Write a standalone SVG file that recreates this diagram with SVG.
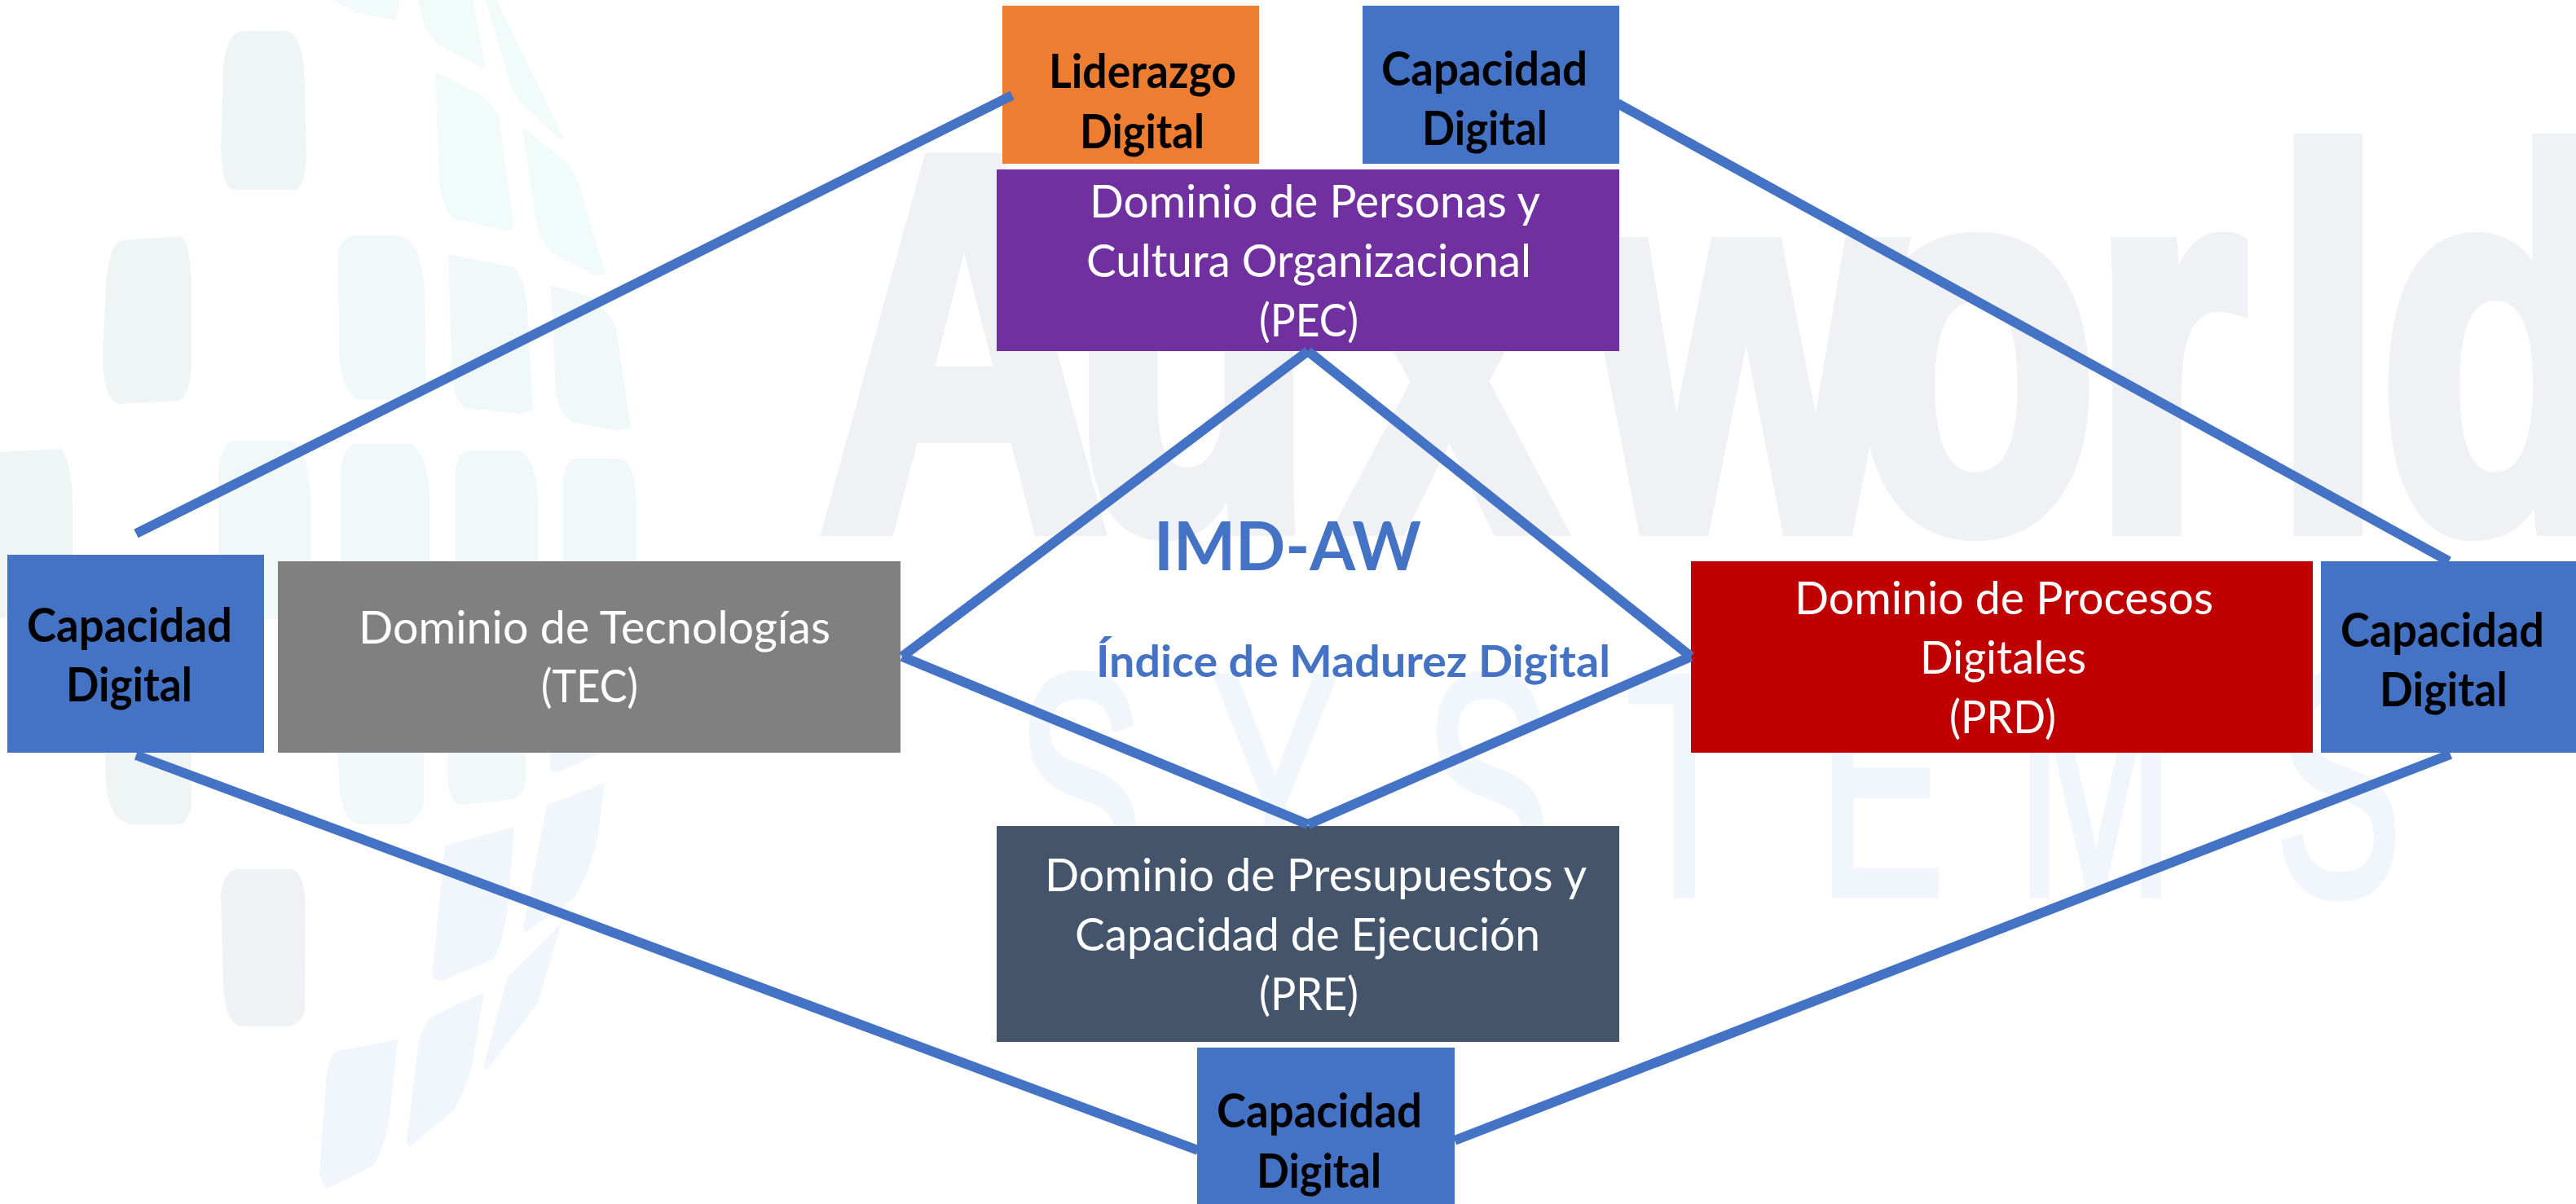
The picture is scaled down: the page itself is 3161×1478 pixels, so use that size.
<svg xmlns="http://www.w3.org/2000/svg" width="3161" height="1478" viewBox="0 0 3161 1478">
<style>
text{font-family:"Lato","Liberation Sans",sans-serif}
.r{font-size:57px;fill:#fff}
.b{font-size:58px;font-weight:700;fill:#000}
.t{font-weight:700;fill:#4472C4}
.wm1{font-family:"Liberation Sans",sans-serif;font-weight:700;font-size:649px;fill:#eff1f5;stroke:#eff1f5;stroke-width:24px}
.wm2{font-family:"Liberation Sans",sans-serif;font-size:390px;fill:#f1f5fc;stroke:#f1f5fc;stroke-width:8px}
.lg{fill:#eff5f5}
.lt{fill:#f1fbfa}
.lm{fill:#f0f8fa}
.lb{fill:#f1f6fd}
.lc{fill:#eff1f5}
.c{stroke:#4472C4;stroke-width:12;fill:none}
</style>
<rect width="3161" height="1478" fill="#fff"/>
<g id="watermark">
<text class="wm1" transform="scale(.75,1)" y="646" x="1343 1753 2192 2605 3035 3423 3719 3893">Auxworld</text>
<text class="wm2" transform="scale(.6,1)" y="1099" x="2078 2478 2912 3325 3718 4123 4653">SYSTEMS</text>
<path class="lg" d="M295 38H350Q372 40 374 100L376 190Q375 228 362 233H285Q272 228 271 180L274 80Q278 42 295 38Z"/>
<path class="lg" d="M150 295L222 290Q233 295 235 350V450Q232 490 218 492L145 496Q127 490 126 440L130 350Q133 300 150 295Z"/>
<path class="lt" d="M408 0H491L485 25L440 16Z"/>
<path class="lt" d="M513 0H580L596 83H590L536 54Q524 40 520 27Z"/>
<path class="lt" d="M596 0H609L692 170H686L638 125Q625 105 622 89Z"/>
<path class="lt" d="M534 88L593 118Q610 135 612 143L631 281L622 283L555 268Q542 250 539 223Z"/>
<path class="lt" d="M641 156L698 201Q712 225 717 250L743 337L733 339L676 310Q660 290 657 268Z"/>
<path class="lm" d="M435 289H490Q518 295 521 360L523 491H440Q418 480 416 430L415 310Q418 292 435 289Z"/>
<path class="lm" d="M550 312L631 328Q645 345 647 379L654 504L638 508L571 501Q557 490 555 464Z"/>
<path class="lm" d="M676 350L724 364Q750 385 756 402L774 525L759 529L702 518Q685 505 682 482Z"/>
<path class="lg" d="M0 555L75 551Q89 570 89 620V758H0Z"/>
<path class="lm" d="M285 541H360Q381 560 381 620V760H268V580Q270 548 285 541Z"/>
<path class="lm" d="M435 545H505Q527 560 527 620V760H418V580Q420 550 435 545Z"/>
<path class="lm" d="M575 553H640Q660 570 660 620V760H559V580Q560 558 575 553Z"/>
<path class="lm" d="M705 563H765Q781 575 781 620V760H691V590Q693 568 705 563Z"/>
<path class="lg" d="M128 900H235V990Q230 1010 220 1012H160Q132 1005 130 960Z"/>
<path class="lm" d="M414 900H520V985Q515 1005 500 1012H440Q418 1005 416 960Z"/>
<path class="lm" d="M550 900H645V960Q640 980 625 982L565 988Q552 985 550 960Z"/>
<path class="lb" d="M675 900H760L745 920L685 948L675 946Z"/>
<path class="lc" d="M290 1067H360Q375 1075 375 1120L374 1240Q370 1258 352 1260H295Q276 1255 274 1210L271 1100Q274 1070 290 1067Z"/>
<path class="lb" d="M546 1038L631 1015L623 1115Q618 1155 605 1178L539 1205L530 1199Z"/>
<path class="lb" d="M671 988L742 961L733 1030Q722 1075 704 1104L645 1144L642 1138Z"/>
<path class="lb" d="M623 1199L689 1133L660 1231L598 1313L593 1310Z"/>
<path class="lb" d="M532 1247L594 1218L579 1310Q570 1340 557 1363L502 1408L499 1400L513 1284Q518 1258 532 1247Z"/>
<path class="lb" d="M411 1291L488 1276L477 1379Q470 1412 458 1431L400 1460L392 1442L400 1326Q403 1300 411 1291Z"/>
</g>
<g id="node-liderazgo">
<rect x="1230" y="7" width="315" height="194" fill="#ED7D31"/>
<text class="b" x="1287" y="108" textLength="230" lengthAdjust="spacingAndGlyphs">Liderazgo</text>
<text class="b" x="1325" y="182" textLength="153" lengthAdjust="spacingAndGlyphs">Digital</text>
</g>
<g id="node-capacidad-top">
<rect x="1672" y="7" width="315" height="194" fill="#4472C4"/>
<text class="b" x="1695" y="105" textLength="253" lengthAdjust="spacingAndGlyphs">Capacidad</text>
<text class="b" x="1745" y="178" textLength="154" lengthAdjust="spacingAndGlyphs">Digital</text>
</g>
<g id="node-pec">
<rect x="1223" y="208" width="764" height="223" fill="#7030A0"/>
<text class="r" x="1337" y="267" textLength="553" lengthAdjust="spacingAndGlyphs">Dominio de Personas y</text>
<text class="r" x="1333" y="340" textLength="546" lengthAdjust="spacingAndGlyphs">Cultura Organizacional</text>
<text class="r" x="1545" y="413" textLength="122" lengthAdjust="spacingAndGlyphs">(PEC)</text>
</g>
<g id="node-capacidad-left">
<rect x="9" y="681" width="315" height="243" fill="#4472C4"/>
<text class="b" x="33" y="788" textLength="252" lengthAdjust="spacingAndGlyphs">Capacidad</text>
<text class="b" x="81" y="861" textLength="155" lengthAdjust="spacingAndGlyphs">Digital</text>
</g>
<g id="node-tec">
<rect x="341" y="689" width="764" height="235" fill="#808080"/>
<text class="r" x="440" y="790" textLength="579" lengthAdjust="spacingAndGlyphs">Dominio de Tecnologías</text>
<text class="r" x="664" y="862" textLength="119" lengthAdjust="spacingAndGlyphs">(TEC)</text>
</g>
<g id="node-prd">
<rect x="2075" y="689" width="763" height="235" fill="#C00000"/>
<text class="r" x="2202" y="754" textLength="514" lengthAdjust="spacingAndGlyphs">Dominio de Procesos</text>
<text class="r" x="2356" y="827" textLength="204" lengthAdjust="spacingAndGlyphs">Digitales</text>
<text class="r" x="2392" y="900" textLength="131" lengthAdjust="spacingAndGlyphs">(PRD)</text>
</g>
<g id="node-capacidad-right">
<rect x="2848" y="689" width="313" height="235" fill="#4472C4"/>
<text class="b" x="2872" y="794" textLength="250" lengthAdjust="spacingAndGlyphs">Capacidad</text>
<text class="b" x="2920" y="867" textLength="157" lengthAdjust="spacingAndGlyphs">Digital</text>
</g>
<g id="node-pre">
<rect x="1223" y="1014" width="764" height="265" fill="#44546A"/>
<text class="r" x="1282" y="1094" textLength="665" lengthAdjust="spacingAndGlyphs">Dominio de Presupuestos y</text>
<text class="r" x="1319" y="1167" textLength="571" lengthAdjust="spacingAndGlyphs">Capacidad de Ejecución</text>
<text class="r" x="1545" y="1240" textLength="122" lengthAdjust="spacingAndGlyphs">(PRE)</text>
</g>
<g id="node-capacidad-bottom">
<rect x="1469" y="1286" width="316" height="192" fill="#4472C4"/>
<text class="b" x="1493" y="1384" textLength="252" lengthAdjust="spacingAndGlyphs">Capacidad</text>
<text class="b" x="1542" y="1458" textLength="153" lengthAdjust="spacingAndGlyphs">Digital</text>
</g>
<g id="connectors">
<line class="c" x1="167" y1="655" x2="1242" y2="117"/>
<line class="c" x1="1985" y1="127" x2="3005" y2="689"/>
<line class="c" x1="167" y1="927" x2="1470" y2="1412"/>
<line class="c" x1="1785" y1="1400" x2="3007" y2="926"/>
<line class="c" x1="1605" y1="431" x2="1107" y2="806"/>
<line class="c" x1="1605" y1="431" x2="2075" y2="806"/>
<line class="c" x1="1107" y1="806" x2="1605" y2="1012"/>
<line class="c" x1="2075" y1="806" x2="1605" y2="1012"/>
</g>
<g id="node-title">
<text class="t" x="1416" y="700" font-size="82" textLength="328" lengthAdjust="spacingAndGlyphs">IMD-AW</text>
<text class="t" x="1345" y="831" font-size="54" textLength="631" lengthAdjust="spacingAndGlyphs">Índice de Madurez Digital</text>
</g>
</svg>
